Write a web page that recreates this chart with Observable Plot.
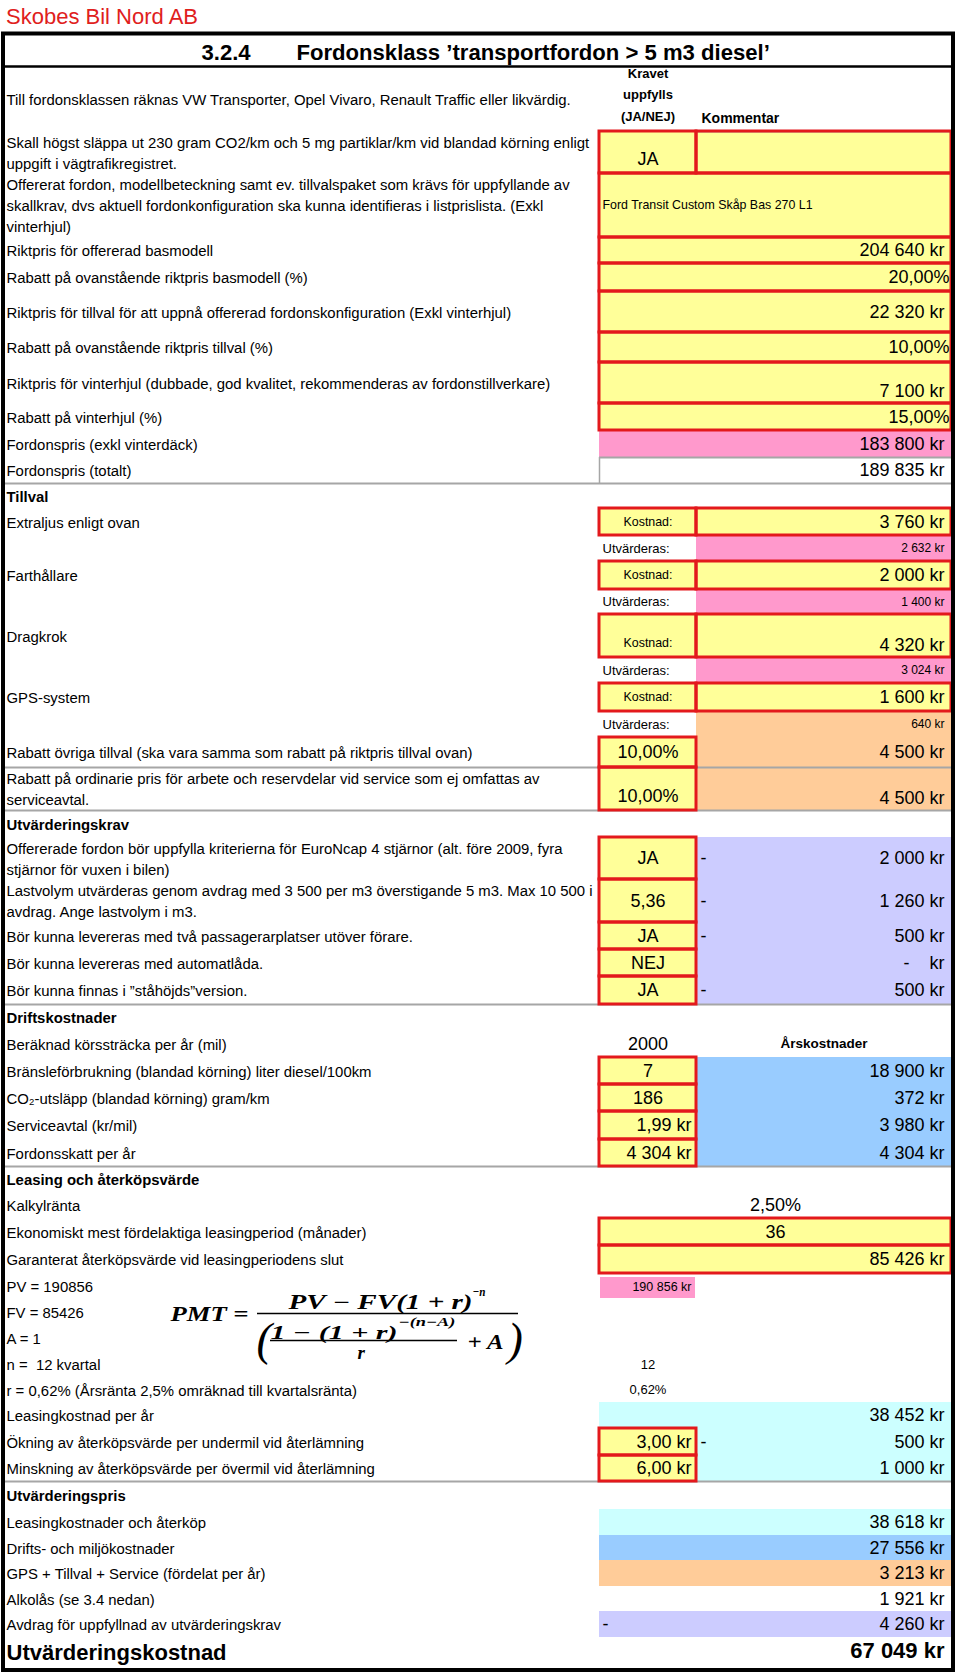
<!DOCTYPE html>
<html><head><meta charset="utf-8">
<script src="https://cdn.jsdelivr.net/npm/d3@7"></script>
<script src="https://cdn.jsdelivr.net/npm/@observablehq/plot@0.6"></script>
<style>
body{margin:0;background:#fff;}
#company{height:29px;padding-top:3px;line-height:28px;font-family:'Liberation Sans',Arial,sans-serif;font-size:22px;color:#e0201c;padding-left:6px;}
svg text{white-space:pre;}
</style></head><body>
<div id="company">Skobes Bil Nord AB</div>
<div id="chart"></div>
<script>
// ---------------- DATA ----------------
const titleParts = ["3.2.4", "Fordonsklass ’transportfordon > 5 m3 diesel’"];

const rowLabels = [
 "Till fordonsklassen räknas VW Transporter, Opel Vivaro, Renault Traffic eller likvärdig.",
 "Skall högst släppa ut 230 gram CO2/km och 5 mg partiklar/km vid blandad körning enligt\nuppgift i vägtrafikregistret.",
 "Offererat fordon, modellbeteckning samt ev. tillvalspaket som krävs för uppfyllande av\nskallkrav, dvs aktuell fordonkonfiguration ska kunna identifieras i listprislista. (Exkl\nvinterhjul)",
 "Riktpris för offererad basmodell",
 "Rabatt på ovanstående riktpris basmodell (%)",
 "Riktpris för tillval för att uppnå offererad fordonskonfiguration (Exkl vinterhjul)",
 "Rabatt på ovanstående riktpris tillval (%)",
 "Riktpris för vinterhjul (dubbade, god kvalitet, rekommenderas av fordonstillverkare)",
 "Rabatt på vinterhjul (%)",
 "Fordonspris (exkl vinterdäck)",
 "Fordonspris (totalt)",
 "Tillval",
 "Extraljus enligt ovan",
 "",
 "Farthållare",
 "",
 "Dragkrok",
 "",
 "GPS-system",
 "",
 "Rabatt övriga tillval (ska vara samma som rabatt på riktpris tillval ovan)",
 "Rabatt på ordinarie pris för arbete och reservdelar vid service som ej omfattas av\nserviceavtal.",
 "Utvärderingskrav",
 "Offererade fordon bör uppfylla kriterierna för EuroNcap 4 stjärnor (alt. före 2009, fyra\nstjärnor för vuxen i bilen)",
 "Lastvolym utvärderas genom avdrag med 3 500 per m3 överstigande 5 m3. Max 10 500 i\navdrag. Ange lastvolym i m3.",
 "Bör kunna levereras med två passagerarplatser utöver förare.",
 "Bör kunna levereras med automatlåda.",
 "Bör kunna finnas i ”ståhöjds”version.",
 "Driftskostnader",
 "Beräknad körssträcka per år (mil)",
 "Bränsleförbrukning (blandad körning) liter diesel/100km",
 "CO₂-utsläpp (blandad körning) gram/km",
 "Serviceavtal (kr/mil)",
 "Fordonsskatt per år",
 "Leasing och återköpsvärde",
 "Kalkylränta",
 "Ekonomiskt mest fördelaktiga leasingperiod (månader)",
 "Garanterat återköpsvärde vid leasingperiodens slut",
 "PV = 190856",
 "FV = 85426",
 "A = 1",
 "n =  12 kvartal",
 "r = 0,62% (Årsränta 2,5% omräknad till kvartalsränta)",
 "Leasingkostnad per år",
 "Ökning av återköpsvärde per undermil vid återlämning",
 "Minskning av återköpsvärde per övermil vid återlämning",
 "Utvärderingspris",
 "Leasingkostnader och återköp",
 "Drifts- och miljökostnader",
 "GPS + Tillval + Service (fördelat per år)",
 "Alkolås (se 3.4 nedan)",
 "Avdrag för uppfyllnad av utvärderingskrav",
 "Utvärderingskostnad"
];

// column "Kravet uppfylls (JA/NEJ)"
const kravValues = [
 "Kravet\nuppfylls\n(JA/NEJ)", "JA", "", "", "", "", "", "", "", "", "",
 "", "Kostnad:", "Utvärderas:", "Kostnad:", "Utvärderas:", "Kostnad:", "Utvärderas:", "Kostnad:", "Utvärderas:",
 "10,00%", "10,00%",
 "", "JA", "5,36", "JA", "NEJ", "JA",
 "", "2000", "7", "186", "1,99 kr", "4 304 kr",
 "", "", "", "", "190 856 kr", "", "", "12", "0,62%", "", "3,00 kr", "6,00 kr",
 "", "", "", "", "", "-", ""
];

// column "Kommentar"
const kommentarValues = [
 "Kommentar", "", "", "", "", "", "", "", "", "", "",
 "", "3 760 kr", "2 632 kr", "2 000 kr", "1 400 kr", "4 320 kr", "3 024 kr", "1 600 kr", "640 kr",
 "4 500 kr", "4 500 kr",
 "", "2 000 kr", "1 260 kr", "500 kr", "-    kr", "500 kr",
 "", "Årskostnader", "18 900 kr", "372 kr", "3 980 kr", "4 304 kr",
 "", "", "", "", "", "", "", "", "", "", "500 kr", "1 000 kr",
 "", "", "", "", "", "", ""
];

// dash shown at the start of the Kommentar column
const kommentarDash = [
 "", "", "", "", "", "", "", "", "", "", "",
 "", "", "", "", "", "", "", "", "",
 "", "",
 "", "-", "-", "-", "", "-",
 "", "", "", "", "", "",
 "", "", "", "", "", "", "", "", "", "", "-", "",
 "", "", "", "", "", "", ""
];

// values spanning both columns
const mergedValues = [
 "", "", "Ford Transit Custom Skåp Bas 270 L1", "204 640 kr", "20,00%", "22 320 kr", "10,00%", "7 100 kr", "15,00%", "183 800 kr", "189 835 kr",
 "", "", "", "", "", "", "", "", "",
 "", "",
 "", "", "", "", "", "",
 "", "", "", "", "", "",
 "", "2,50%", "36", "85 426 kr", "", "", "", "", "", "38 452 kr", "", "",
 "", "38 618 kr", "27 556 kr", "3 213 kr", "1 921 kr", "4 260 kr", "67 049 kr"
];

// ---------------- LAYOUT & STYLE ----------------
const rowEdges = [33, 66, 131, 173, 237, 263, 291, 332, 362, 403, 430, 457, 483, 508, 535, 561, 589, 614, 657, 683, 711, 737,
 767, 810, 837, 879, 922, 949, 976, 1004, 1030, 1057, 1084, 1111, 1139, 1166, 1192, 1218, 1245, 1273, 1299, 1325, 1351,
 1377, 1402, 1428, 1455, 1481, 1509, 1535, 1560, 1586, 1611, 1637, 1669];

const rowKind = ["header","ja","ford","m","m","m","m","mB","m","pink","white",
 "sec","kost","utv","kost","utv","kostB","utv","kost","utvPeach","rab","rabB",
 "sec","krav","krav","krav","krav","krav","sec","plain2","drift","drift","drift","drift",
 "sec","center","mCenter","m","pv","plain","plain","small2","small2","cyan","cyanKrav","cyanKrav",
 "sec","cyan","blue","peach","plain","lav","total"];

const Y="#ffff99", PINK="#ff99cc", PEACH="#ffcc99", LAV="#ccccff", BLUE="#99ccff", CYAN="#ccffff";
const RED="#e3191c", GREY="#a6a6a6";
const FONT="'Liberation Sans', Arial, sans-serif";
const LABEL=14.9, VAL=18;
const X0=3, C2=599, C3=696, XR=951, LX=6;

const kinds = {
 header:{}, ja:{f2:Y,f3:Y,red2:1,red3:1,v2:"bottom"},
 ford:{fM:Y,redM:1,alignM:"left",sizeM:12.4},
 m:{fM:Y,redM:1}, mB:{fM:Y,redM:1,vM:"bottom"},
 pink:{fM:PINK}, white:{}, sec:{bold:1},
 kost:{f2:Y,f3:Y,red2:1,red3:1,size2:12.4},
 kostB:{f2:Y,f3:Y,red2:1,red3:1,size2:12.4,v2:"bottom",v3:"bottom"},
 utv:{f3:PINK,align2:"left",size2:13,size3:12},
 utvPeach:{f3:PEACH,align2:"left",size2:13,size3:12},
 rab:{f2:Y,red2:1,f3:PEACH}, rabB:{f2:Y,red2:1,f3:PEACH,v2:"bottom",v3:"bottom"},
 krav:{f2:Y,red2:1,f3:LAV},
 plain2:{bold3:1,size3:13.5,align3:"center"},
 drift:{f2:Y,red2:1,f3:BLUE},
 center:{alignM:"center"}, mCenter:{fM:Y,redM:1,alignM:"center"},
 pv:{pv:PINK,size2:12.5}, plain:{}, small2:{size2:13},
 cyan:{fM:CYAN}, cyanKrav:{f2:Y,red2:1,f3:CYAN},
 blue:{fM:BLUE}, peach:{fM:PEACH}, lav:{fM:LAV,align2:"left"},
 total:{bold:1,labelSize:22,boldM:1,sizeM:22,dyM:-3,dyL:-2}
};

const fills=[], reds=[], texts=[];
const greyH=[], greyV=[];
const greyAfterRows=[10,20,21,27,33,45]; // full-width separators below these rows

titleParts.forEach((t,j)=>texts.push({x: j===0 ? 201 : 296, y: 52, text:t, anchor:"start", size:22.1, weight:"bold", lh:1}));

rowLabels.forEach((label,i)=>{
 const top=rowEdges[i+1], bot=rowEdges[i+2], mid=(top+bot)/2;
 const k=kinds[rowKind[i]];
 if(k.fM) fills.push({x1:C2,x2:XR,y1:top,y2:bot,fill:k.fM});
 if(k.f2) fills.push({x1:C2,x2:C3,y1:top,y2:bot,fill:k.f2});
 if(k.f3) fills.push({x1:C3,x2:XR,y1:top,y2:bot,fill:k.f3});
 if(k.pv) fills.push({x1:C2+1,x2:C3-1,y1:top+4,y2:bot-1,fill:k.pv});
 if(k.redM) reds.push({x1:C2,x2:XR,y1:top,y2:bot});
 if(k.red2) reds.push({x1:C2,x2:C3,y1:top,y2:bot});
 if(k.red3) reds.push({x1:C3,x2:XR,y1:top,y2:bot});
 if(label) texts.push({x:LX,y:mid-1+(k.dyL||0),text:label,anchor:"start",size:k.labelSize||LABEL,weight:k.bold?"bold":"normal",lh:1.4});
 if(i===0){
   texts.push({x:(C2+C3)/2,y:mid-6.5,text:kravValues[0],anchor:"middle",size:13,weight:"bold",lh:1.65});
   texts.push({x:C3+5,y:bot-13,text:kommentarValues[0],anchor:"start",size:14,weight:"bold",lh:1});
   greyH.push({y:bot,x1:C3,x2:XR});
   return;
 }
 const v2=kravValues[i];
 if(v2){
   let anchor="middle", x=(C2+C3)/2;
   if(k.align2==="left"){anchor="start"; x=C2+3;}
   else if(/kr$/.test(v2)){anchor="end"; x=C3-5;}
   texts.push({x,y:k.v2==="bottom"?bot-14:mid,text:v2,anchor,size:k.size2||VAL,weight:"normal",lh:1});
 }
 const v3=kommentarValues[i];
 if(v3){
   let anchor="end", x=/%$/.test(v3)?XR-2:XR-7;
   if(k.align3==="center"){anchor="middle"; x=(C3+XR)/2;}
   texts.push({x,y:k.v3==="bottom"?bot-12:mid,text:v3,anchor,size:k.size3||VAL,weight:k.bold3?"bold":"normal",lh:1});
 }
 if(kommentarDash[i]) texts.push({x:C3+4,y:mid,text:kommentarDash[i],anchor:"start",size:VAL,weight:"normal",lh:1});
 const vm=mergedValues[i];
 if(vm){
   let anchor="end", x=/%$/.test(vm)?XR-2:XR-7;
   if(k.alignM==="left"){anchor="start"; x=C2+3;}
   else if(k.alignM==="center"){anchor="middle"; x=(C2+XR)/2;}
   const y=k.vM==="bottom"?bot-12:mid+(k.dyM||0);
   texts.push({x,y,text:vm,anchor,size:k.sizeM||VAL,weight:k.boldM?"bold":"normal",lh:1});
 }
 if(i===9) greyH.push({y:bot,x1:C2,x2:XR});
 if(i===10) greyV.push({x:C2,y1:top,y2:bot});
 if(greyAfterRows.includes(i)) greyH.push({y:bot,x1:X0,x2:XR});
});

// PMT formula (placed beside the PV/FV/A rows); w = rendered width
const fx=170, fy=1313;
const SERIF="'Liberation Serif','DejaVu Serif',serif";
const formulaText=[
 {dx:0,dy:0,text:"PMT =",size:22,w:78,wt:"bold"},
 {dx:118,dy:-11,text:"PV − FV(1 + r)",size:20,w:184,wt:"bold"},
 {dx:302,dy:-22,text:"−n",size:13,w:13,wt:"bold"},
 {dx:86,dy:27,text:"(",size:46,wt:"normal"},
 {dx:100,dy:19,text:"1 − (1 + r)",size:19,w:127,wt:"bold"},
 {dx:228,dy:9,text:"−(n−A)",size:12,w:57,wt:"bold"},
 {dx:187,dy:39,text:"r",size:19,wt:"bold"},
 {dx:297,dy:29,text:"+ A",size:20,w:36,wt:"bold"},
 {dx:337,dy:27,text:")",size:46,wt:"normal"}
];
formulaText.forEach(f=>texts.push({x:fx+f.dx,y:fy+f.dy,text:f.text,anchor:"start",size:f.size,weight:f.wt,lh:1,family:SERIF,style:"italic"}));
const formulaBars=[{y:fy,x1:fx+87,x2:fx+348},{y:fy+27,x1:fx+100,x2:fx+287}];

const frame=[{x1:X0,x2:953,y1:33.5,y2:1670}];
const titleRule=[{y:rowEdges[1],x1:X0,x2:XR}];

const textGroups=d3.groups(texts,d=>[d.anchor,d.weight,d.lh,d.family||FONT,d.style||"normal"].join("|"));

const chart=Plot.plot({
 width:960, height:1641, margin:0, marginTop:0, marginRight:0, marginBottom:0, marginLeft:0,
 x:{domain:[0,960],range:[0,960],axis:null},
 y:{domain:[32,1673],range:[0,1641],axis:null},
 color:{type:"identity"},
 style:{fontFamily:FONT,background:"white",overflow:"visible"},
 marks:[
   Plot.rect(fills,{x1:"x1",x2:"x2",y1:"y1",y2:"y2",fill:"fill"}),
   Plot.ruleY(greyH,{y:"y",x1:"x1",x2:"x2",stroke:GREY,strokeWidth:2}),
   Plot.ruleX(greyV,{x:"x",y1:"y1",y2:"y2",stroke:GREY,strokeWidth:1.5}),
   Plot.rect(reds,{x1:"x1",x2:"x2",y1:"y1",y2:"y2",fill:"none",stroke:RED,strokeWidth:3}),
   Plot.ruleY(titleRule,{y:"y",x1:"x1",x2:"x2",stroke:"black",strokeWidth:2.5}),
   Plot.rect(frame,{x1:"x1",x2:"x2",y1:"y1",y2:"y2",fill:"none",stroke:"black",strokeWidth:4}),
   Plot.ruleY(formulaBars,{y:"y",x1:"x1",x2:"x2",stroke:"black",strokeWidth:1.6}),
   ...textGroups.map(([key,arr])=>{
     const [anchor,weight,lh,family,fstyle]=key.split("|");
     return Plot.text(arr,{x:"x",y:"y",text:"text",textAnchor:anchor,fontWeight:weight,fontSize:"size",
       lineAnchor:"middle",lineHeight:+lh,fontFamily:family,fontStyle:fstyle,fill:"black"});
   })
 ]
});
// stretch formula pieces to the widths of the typeset original
const widthByText=new Map(formulaText.filter(f=>f.w).map(f=>[f.text,f.w]));
chart.querySelectorAll("text").forEach(t=>{
 if(t.children.length===0 && widthByText.has(t.textContent)){
   t.setAttribute("textLength",widthByText.get(t.textContent));
   t.setAttribute("lengthAdjust","spacingAndGlyphs");
 }
});
document.getElementById("chart").appendChild(chart);
</script></body></html>
